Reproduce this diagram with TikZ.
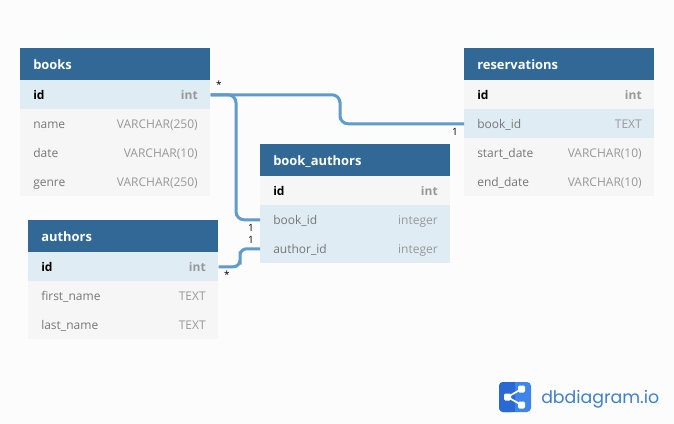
\documentclass[tikz,border=0pt]{standalone}
\usepackage{fontspec}
\setmainfont{Open Sans}
\newfontfamily\logofont{Poppins}
\definecolor{hdr}{HTML}{316896}
\definecolor{rowa}{HTML}{F6F6F6}
\definecolor{rowb}{HTML}{DFECF4}
\definecolor{bgc}{HTML}{FCFCFC}
\definecolor{linkc}{HTML}{5F9BCB}
\definecolor{namec}{HTML}{777777}
\definecolor{typec}{HTML}{989898}
\definecolor{logoa}{HTML}{2A69D4}
\definecolor{logob}{HTML}{3F84EA}
\definecolor{logot}{HTML}{3F7FD2}
\tikzset{
 px/.style={x=0.75pt,y=-0.75pt},
 header/.style={fill=hdr,draw=none,minimum width=142.5pt,minimum height=24pt,inner sep=0pt,anchor=north west},
 htext/.style={anchor=base west,inner sep=0pt,text=white,font=\fontsize{9.7pt}{11pt}\selectfont\bfseries},
 plain/.style={fill=rowa,draw=none,minimum width=142.5pt,minimum height=21.75pt,inner sep=0pt,anchor=north west},
 hilite/.style={plain,fill=rowb},
 fname/.style={anchor=base west,inner sep=0pt,text=namec,font=\fontsize{9pt}{11pt}\selectfont},
 ftype/.style={anchor=base east,inner sep=0pt,text=typec,font=\fontsize{9pt}{11pt}\selectfont},
 kname/.style={fname,text=black,font=\fontsize{9pt}{11pt}\selectfont\bfseries},
 ktype/.style={ftype,font=\fontsize{9pt}{11pt}\selectfont\bfseries},
 link/.style={draw=linkc,line width=2.25pt,rounded corners=6pt},
 card/.style={inner sep=0pt,text=black,font=\fontsize{7.5pt}{9pt}\selectfont},
}
\newcommand{\tablehead}[4]{% node name, x, y, title
 \node[header] (#1) at (#2,#3) {};
 \node[htext] (#1t) at (#2+13,#3+21.2) {#4};
}
\newcommand{\fieldrow}[8]{% style, node name, x, y(top), name style, name, type style, type
 \node[#1] (#2) at (#3,#4) {};
 \node[#5] (#2n) at (#3+13,#4+19.5) {#6};
 \node[#7] (#2t) at (#3+178,#4+19.5) {#8};
}
\begin{document}
\begin{tikzpicture}[px]
\useasboundingbox (0,0) rectangle (674,424);
\fill[bgc] (0,0) rectangle (674,424);
% books
\tablehead{books}{20}{48}{books}
\fieldrow{hilite}{booksid}{20}{80}{kname}{id}{ktype}{int}
\fieldrow{plain}{booksname}{20}{109}{fname}{name}{ftype}{VARCHAR(250)}
\fieldrow{plain}{booksdate}{20}{138}{fname}{date}{ftype}{VARCHAR(10)}
\fieldrow{plain}{booksgenre}{20}{167}{fname}{genre}{ftype}{VARCHAR(250)}
% authors
\tablehead{authors}{28}{220}{authors}
\fieldrow{hilite}{authid}{28}{252}{kname}{id}{ktype}{int}
\fieldrow{plain}{authfirst}{28}{281}{fname}{first\_name}{ftype}{TEXT}
\fieldrow{plain}{authlast}{28}{310}{fname}{last\_name}{ftype}{TEXT}
% book_authors
\tablehead{ba}{260}{144}{book\_authors}
\fieldrow{plain}{baid}{260}{176}{kname}{id}{ktype}{int}
\fieldrow{hilite}{babook}{260}{205}{fname}{book\_id}{ftype}{integer}
\fieldrow{hilite}{baauth}{260}{234}{fname}{author\_id}{ftype}{integer}
% reservations
\tablehead{res}{464}{48}{reservations}
\fieldrow{plain}{resid}{464}{80}{kname}{id}{ktype}{int}
\fieldrow{hilite}{resbook}{464}{109}{fname}{book\_id}{ftype}{TEXT}
\fieldrow{plain}{resstart}{464}{138}{fname}{start\_date}{ftype}{VARCHAR(10)}
\fieldrow{plain}{resend}{464}{167}{fname}{end\_date}{ftype}{VARCHAR(10)}
% connectors
\coordinate (bendr) at (340,110);
\coordinate (bendb) at (236,150);
\coordinate (benda) at (240,258);
\draw[link] (booksid.east) -| (bendr) |- (resbook.west);
\draw[link] (booksid.east) -| (bendb) |- (babook.west);
\draw[link,rounded corners=5pt] (authid.east) -| (benda) |- (baauth.west);
% cardinalities
\node[card] (c1) at (219,85) {*};
\node[card] (c2) at (455,132) {1};
\node[card] (c3) at (251,228) {1};
\node[card] (c4) at (251,240) {1};
\node[card] (c5) at (227,275) {*};
% logo
\fill[logob,rounded corners=3pt] (499,382) rectangle (531,412);
\fill[logoa,rounded corners=3pt] (499,382) rectangle (515,412);
\fill[logoa] (511,382) rectangle (515,412);
\coordinate (la) at (507.5,397);
\coordinate (lb) at (521.5,389);
\coordinate (lc) at (521.5,405);
\draw[white,line width=1.3pt] (lb) -- (la) -- (lc);
\fill[white,rounded corners=1pt] (504,393.5) rectangle (511,400.5) (518,385.5) rectangle (525,392.5) (518,401.5) rectangle (525,408.5);
\node[anchor=base west,inner sep=0pt,text=logot,font=\logofont\fontsize{13pt}{16pt}\selectfont] (logo) at (541,403) {dbdiagram.io};
\end{tikzpicture}
\end{document}
